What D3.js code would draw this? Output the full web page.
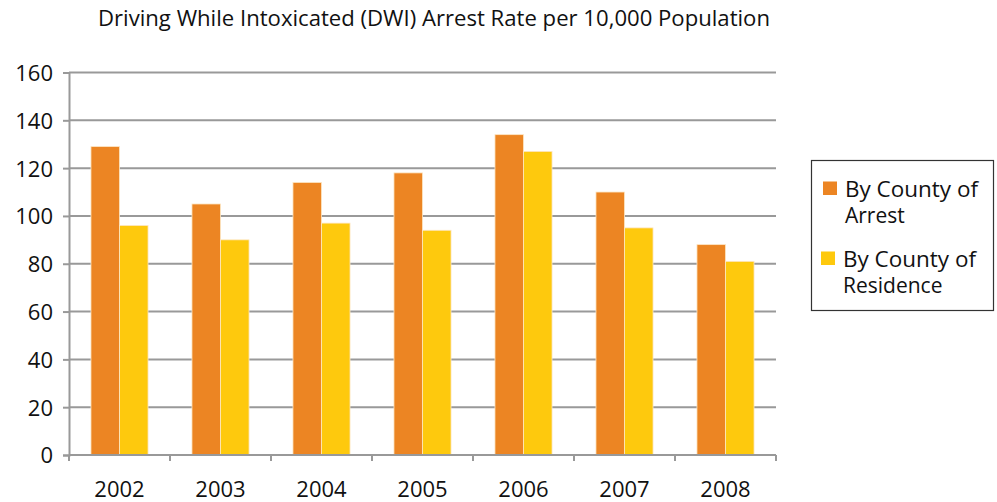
<!DOCTYPE html>
<html>
<head>
<meta charset="utf-8">
<script src="https://cdn.jsdelivr.net/npm/d3@7"></script>
<style>
  body { margin: 0; background: #fff; }
  text { font-family: "Open Sans", sans-serif; fill: #111; }
</style>
</head>
<body>
<svg width="997" height="502"></svg>
<script>
// data
const years = ["2002", "2003", "2004", "2005", "2006", "2007", "2008"];
const seriesNames = ["By County of Arrest", "By County of Residence"];
const arrest = [129, 105, 114, 118, 134, 110, 88];
const residence = [96, 90, 97, 94, 127, 95, 81];
const yTicks = [0, 20, 40, 60, 80, 100, 120, 140, 160];
const colors = ["#ec8523", "#fec90d"];

const svg = d3.select("svg");
const plotLeft = 69, plotRight = 776, plotTop = 72.5, plotBottom = 455;

const x = d3.scaleBand().domain(years).range([plotLeft, plotRight]);
const xSeries = d3.scaleBand()
  .domain([0, 1])
  .range([0, x.bandwidth()])
  .paddingOuter(0.77);
const y = d3.scaleLinear().domain([0, 160]).range([plotBottom, plotTop]);

// title
svg.append("text")
  .attr("x", 98)
  .attr("y", 26)
  .attr("textLength", 672)
  .attr("lengthAdjust", "spacingAndGlyphs")
  .style("font-size", "21px")
  .text("Driving While Intoxicated (DWI) Arrest Rate per 10,000 Population");

// gridlines
svg.append("g")
  .selectAll("line")
  .data(yTicks)
  .join("line")
    .attr("x1", plotLeft)
    .attr("x2", plotRight)
    .attr("y1", d => y(d))
    .attr("y2", d => y(d))
    .attr("stroke", "#999")
    .attr("stroke-width", 2);

// bars
const groups = svg.append("g")
  .selectAll("g")
  .data(years)
  .join("g")
    .attr("transform", d => `translate(${x(d)},0)`);

groups.selectAll("rect")
  .data((d, i) => [arrest[i], residence[i]])
  .join("rect")
    .attr("x", (d, j) => xSeries(j))
    .attr("width", xSeries.bandwidth())
    .attr("y", d => y(d))
    .attr("height", d => y(0) - y(d))
    .attr("fill", (d, j) => colors[j])
    .attr("stroke", "#fde6c4")
    .attr("stroke-width", 0.8);

// y axis
const yAxis = svg.append("g")
  .attr("transform", `translate(${plotLeft},0)`)
  .call(d3.axisLeft(y).tickValues(yTicks).tickSize(6).tickPadding(10));
yAxis.selectAll("line, path").attr("stroke", "#999").attr("stroke-width", 2);
yAxis.selectAll("text")
  .style("font-size", "22px")
  .style("font-family", "'Open Sans', sans-serif")
  .attr("fill", "#111")
  .attr("dy", "0.36em");

// x axis with ticks at category boundaries
const xAxis = svg.append("g")
  .attr("transform", `translate(0,${plotBottom})`);
xAxis.append("line")
  .attr("x1", plotLeft).attr("x2", plotRight)
  .attr("stroke", "#999").attr("stroke-width", 2);
xAxis.selectAll("line.tick")
  .data(years.concat(["end"]))
  .join("line")
    .attr("class", "tick")
    .attr("x1", d => d === "end" ? plotRight : x(d))
    .attr("x2", d => d === "end" ? plotRight : x(d))
    .attr("y1", 0)
    .attr("y2", 6)
    .attr("stroke", "#999")
    .attr("stroke-width", 2);
xAxis.selectAll("text")
  .data(years)
  .join("text")
    .attr("x", d => x(d) + x.bandwidth() / 2)
    .attr("y", 42)
    .attr("text-anchor", "middle")
    .style("font-size", "22px")
    .text(d => d);

// legend
const legend = svg.append("g");
legend.append("rect")
  .attr("x", 811.5).attr("y", 160.5)
  .attr("width", 182).attr("height", 150)
  .attr("fill", "#fff")
  .attr("stroke", "#333")
  .attr("stroke-width", 1.2);

const legendLines = [["By County of", "Arrest"], ["By County of", "Residence"]];
legendLines.forEach((lines, i) => {
  const g = legend.append("g").attr("transform", `translate(0,${i * 70})`);
  g.append("rect")
    .attr("x", 823 - i * 2).attr("y", 181.5)
    .attr("width", 14).attr("height", 13.5)
    .attr("fill", colors[i]);
  g.append("text")
    .attr("x", 845 - i * 2)
    .attr("y", 197)
    .attr("textLength", 133)
    .attr("lengthAdjust", "spacingAndGlyphs")
    .style("font-size", "21px")
    .text(lines[0]);
  g.append("text")
    .attr("x", 845 - i * 2)
    .attr("y", 223)
    .style("font-size", "21px")
    .text(lines[1]);
});
</script>
</body>
</html>
